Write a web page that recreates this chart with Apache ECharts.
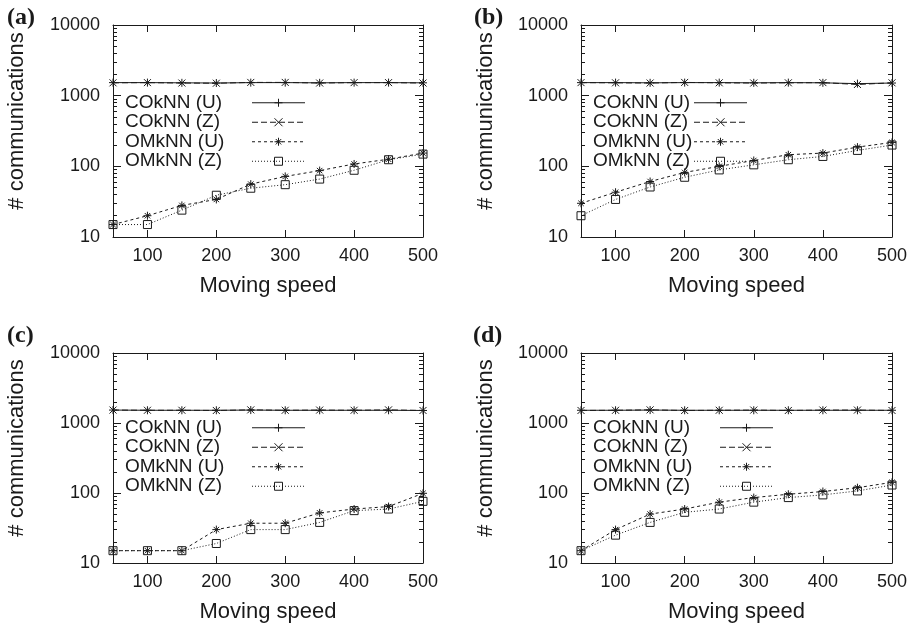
<!DOCTYPE html>
<html><head><meta charset="utf-8">
<script src="https://cdn.jsdelivr.net/npm/echarts@6/dist/echarts.min.js"></script>
<style>html,body{margin:0;padding:0;background:#fff}#c{width:913px;height:628px}</style>
</head><body><div id="c"></div>
<script>
// ---- data ----
const speeds = [50, 100, 150, 200, 250, 300, 350, 400, 450, 500];
const seriesNames = ['COkNN (U)', 'COkNN (Z)', 'OMkNN (U)', 'OMkNN (Z)'];
const panelLabels = ['(a)', '(b)', '(c)', '(d)'];
const xTicks = [100, 200, 300, 400, 500];
const yTicks = [10, 100, 1000, 10000];
const xAxisName = 'Moving speed';
const yAxisName = '# communications';

const a_cokU = [1530, 1530, 1520, 1510, 1530, 1530, 1520, 1530, 1530, 1520];
const a_cokZ = [1520, 1530, 1510, 1500, 1540, 1540, 1510, 1530, 1530, 1510];
const a_omkU = [15, 20, 28, 34, 56, 72, 87, 108, 126, 154];
const a_omkZ = [15, 15, 24, 39, 49, 55, 66, 88, 124, 149];

const b_cokU = [1530, 1530, 1520, 1530, 1530, 1520, 1530, 1520, 1480, 1510];
const b_cokZ = [1530, 1520, 1510, 1540, 1520, 1510, 1520, 1530, 1440, 1520];
const b_omkU = [30, 43, 61, 82, 100, 121, 146, 154, 187, 218];
const b_omkZ = [20, 34, 51, 70, 89, 105, 124, 138, 168, 200];

const c_cokU = [1530, 1520, 1520, 1520, 1530, 1520, 1520, 1520, 1520, 1510];
const c_cokZ = [1530, 1520, 1520, 1510, 1540, 1520, 1530, 1520, 1540, 1510];
const c_omkU = [15, 15, 15, 30, 37, 37, 52, 59, 64, 99];
const c_omkZ = [15, 15, 15, 19, 30, 30, 38, 56, 59, 76];

const d_cokU = [1520, 1520, 1530, 1520, 1520, 1520, 1520, 1520, 1520, 1520];
const d_cokZ = [1510, 1520, 1540, 1510, 1520, 1530, 1510, 1530, 1530, 1510];
const d_omkU = [15, 30, 50, 59, 74, 86, 96, 105, 119, 142];
const d_omkZ = [15, 25, 38, 53, 59, 74, 86, 94, 107, 130];

const panelData = [
  [a_cokU, a_cokZ, a_omkU, a_omkZ],
  [b_cokU, b_cokZ, b_omkU, b_omkZ],
  [c_cokU, c_cokZ, c_omkU, c_omkZ],
  [d_cokU, d_cokZ, d_omkU, d_omkZ]
];

// ---- layout / style ----
const FONT = '"Liberation Sans", Arial, sans-serif';
const INK = '#1a1a1a';
const grids = [
  {left: 113, top: 25, width: 310, height: 212},
  {left: 581, top: 25, width: 311, height: 212},
  {left: 113, top: 353, width: 310, height: 210},
  {left: 581, top: 353, width: 311, height: 210}
];
const legendPos = [
  {left: 125, top: 93, textW: 122},
  {left: 593, top: 93, textW: 96},
  {left: 125, top: 418, textW: 122},
  {left: 593, top: 418, textW: 122}
];
const labelPos = [[7, 6], [474, 6], [7, 324], [473, 324]];
const yNamePos = [[17, 121], [486, 121], [17, 448], [486, 448]];

// minor log ticks (2..9 within each decade), expressed as exponents on a linear helper axis
const yMinorExp = [];
[1, 2, 3].forEach(e => { for (let k = 2; k <= 9; k++) yMinorExp.push(e + Math.log10(k)); });

const styles = [
  {symbol: 'path://M5,0L5,10M0,5L10,5', size: 8, type: 'solid', fill: INK},
  {symbol: 'path://M0,0L10,10M0,10L10,0', size: 7, type: [6, 3], fill: INK},
  {symbol: 'path://M5,0L5,10M0,5L10,5M1.6,1.6L8.4,8.4M1.6,8.4L8.4,1.6', size: 8, type: [3, 3], fill: INK},
  {symbol: 'path://M0,0L10,0L10,10L0,10Z', size: 8, type: [1, 2], fill: 'rgba(255,255,255,0)'}
];

const xAxes = [], yAxes = [], series = [], legends = [];
grids.forEach((g, gi) => {
  const axisLine = {show: true, lineStyle: {color: INK, width: 1}};
  xAxes.push({
    type: 'value', gridIndex: gi, min: 50, max: 500, position: 'bottom',
    axisLine,
    axisTick: {show: true, inside: true, length: 7, customValues: xTicks, lineStyle: {color: INK}},
    axisLabel: {show: true, customValues: xTicks, margin: 10, fontFamily: FONT, fontSize: 18, color: INK,
      formatter: v => String(Math.round(v))},
    splitLine: {show: false},
    name: xAxisName, nameLocation: 'middle', nameGap: 38,
    nameTextStyle: {fontFamily: FONT, fontSize: 22, color: INK}
  });
  xAxes.push({
    type: 'value', gridIndex: gi, min: 50, max: 500, position: 'top',
    axisLine,
    axisTick: {show: true, inside: true, length: 7, customValues: xTicks, lineStyle: {color: INK}},
    axisLabel: {show: false}, splitLine: {show: false}
  });
  ['left', 'right'].forEach(pos => {
    yAxes.push({
      type: 'log', logBase: 10, gridIndex: gi, min: yTicks[0], max: yTicks[yTicks.length - 1], position: pos,
      axisLine,
      axisTick: {show: true, inside: true, length: 8, lineStyle: {color: INK}},
      axisLabel: {show: pos === 'left', margin: 13, fontFamily: FONT, fontSize: 18, color: INK,
        formatter: v => String(Math.round(v))},
      splitLine: {show: false}
    });
    yAxes.push({
      type: 'value', gridIndex: gi, min: 1, max: 4, position: pos,
      axisLine: {show: false},
      axisTick: {show: true, inside: true, length: 4, customValues: yMinorExp, lineStyle: {color: INK}},
      axisLabel: {show: false}, splitLine: {show: false}
    });
  });
  panelData[gi].forEach((vals, si) => {
    const st = styles[si];
    series.push({
      type: 'line', name: seriesNames[si], xAxisIndex: gi * 2, yAxisIndex: gi * 4,
      data: speeds.map((s, k) => [s, vals[k]]),
      symbol: st.symbol, symbolSize: st.size, showSymbol: true,
      color: INK,
      lineStyle: {color: INK, width: 1, type: st.type},
      itemStyle: {color: st.fill, borderColor: INK, borderWidth: 1},
      emphasis: {disabled: true}, silent: true, z: 10 - si
    });
  });
  const lp = legendPos[gi];
  legends.push({
    orient: 'vertical', left: lp.left, top: lp.top, align: 'right', padding: 0,
    itemWidth: 53, itemHeight: 10, itemGap: 0, selectedMode: false,
    formatter: n => '{t|' + n + '}',
    textStyle: {fontFamily: FONT, fontSize: 19, color: INK, lineHeight: 19.5,
      rich: {t: {fontFamily: FONT, fontSize: 19, color: INK, lineHeight: 19.5, width: lp.textW, align: 'left'}}},
    data: seriesNames.map((n, si) => ({
      name: n,
      itemStyle: {color: styles[si].fill, borderColor: INK, borderWidth: 1},
      lineStyle: {color: INK, width: 1, type: styles[si].type}
    }))
  });
});

const graphics = [];
panelLabels.forEach((t, i) => {
  graphics.push({type: 'text', left: labelPos[i][0], top: labelPos[i][1],
    style: {text: t, font: 'bold 24px "Liberation Serif", "Times New Roman", serif', fill: INK}});
});
yNamePos.forEach(p => {
  graphics.push({type: 'text', x: p[0], y: p[1], rotation: Math.PI / 2,
    style: {text: yAxisName, font: '22px ' + FONT, fill: INK, align: 'center', verticalAlign: 'middle'}});
});

const chart = echarts.init(document.getElementById('c'), null, {renderer: 'canvas'});
chart.setOption({
  animation: false,
  backgroundColor: '#fff',
  grid: grids,
  xAxis: xAxes,
  yAxis: yAxes,
  legend: legends,
  series: series,
  graphic: graphics
});
</script>
</body></html>
